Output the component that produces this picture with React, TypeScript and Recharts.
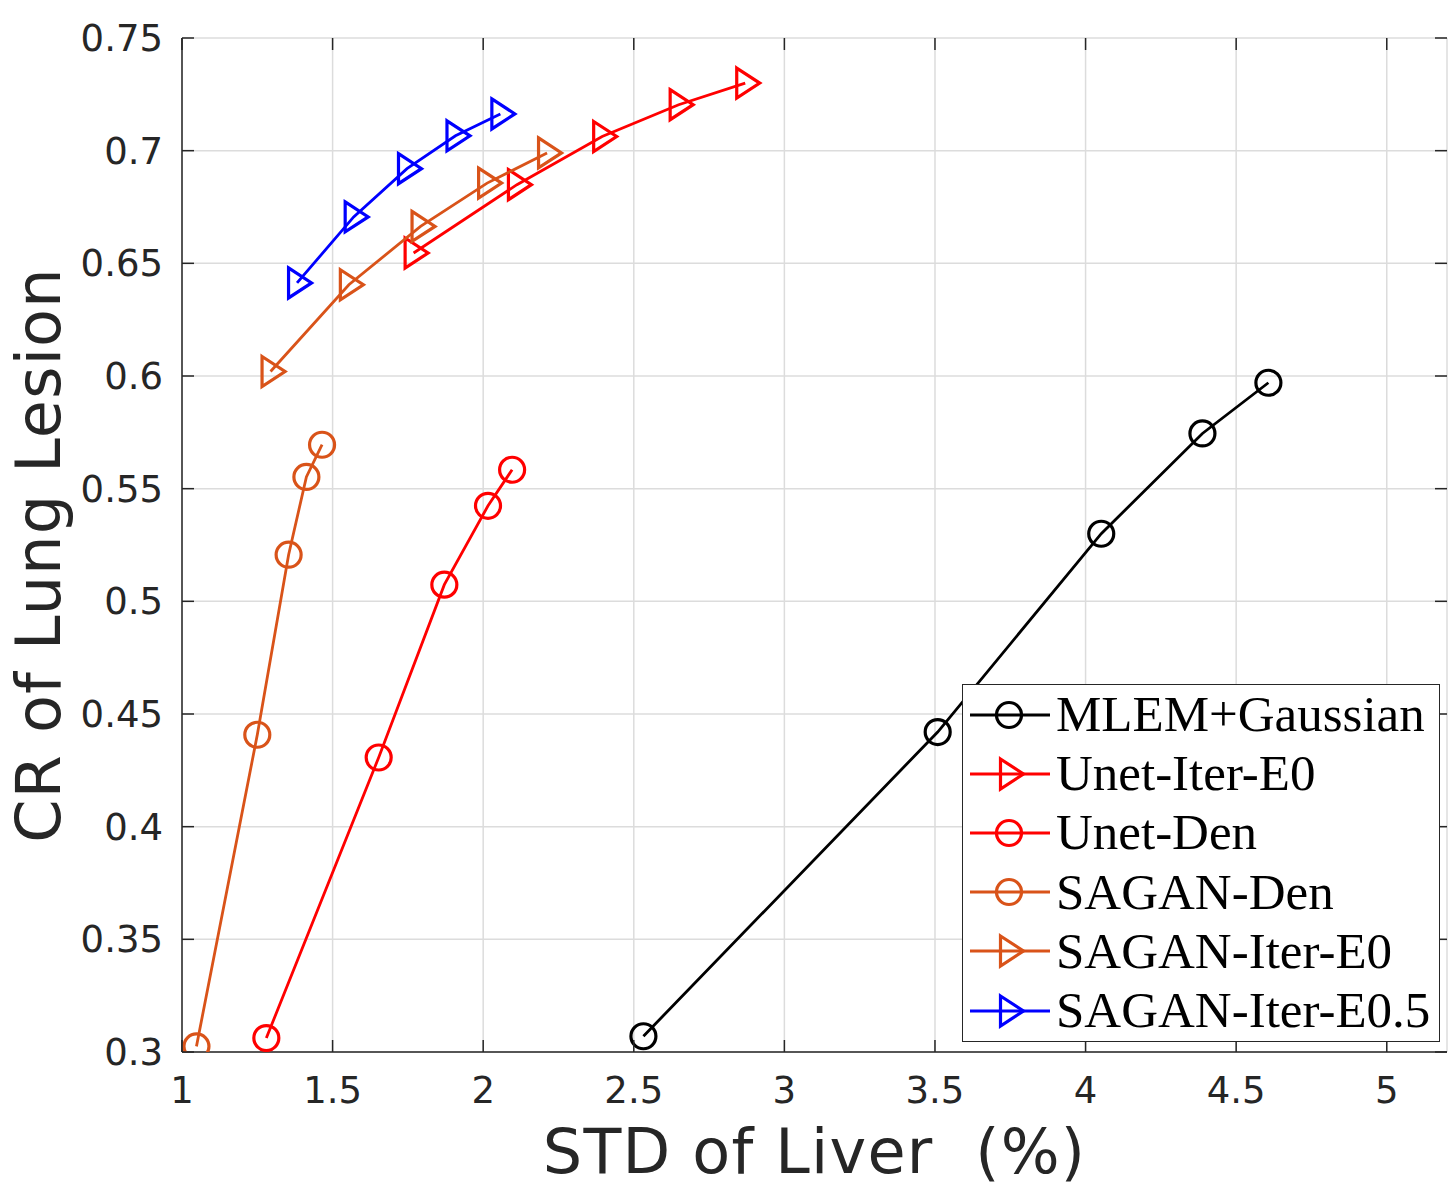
import React from 'react';
import { ScatterChart, Scatter, XAxis, YAxis, CartesianGrid, Legend, Label } from 'recharts';

// axis ticks
const xTicks = [1, 1.5, 2, 2.5, 3, 3.5, 4, 4.5, 5];
const yTicks = [0.3, 0.35, 0.4, 0.45, 0.5, 0.55, 0.6, 0.65, 0.7, 0.75];

// series values: x = STD of liver (%), y = CR of lung lesion
const mlemGaussian = [
  { x: 2.532, y: 0.307 },
  { x: 3.509, y: 0.442 },
  { x: 4.052, y: 0.530 },
  { x: 4.388, y: 0.5745 },
  { x: 4.607, y: 0.597 },
];
const unetIterE0 = [
  { x: 1.769, y: 0.6546 },
  { x: 2.112, y: 0.6849 },
  { x: 2.395, y: 0.7063 },
  { x: 2.649, y: 0.7204 },
  { x: 2.87, y: 0.730 },
];
const unetDen = [
  { x: 1.28, y: 0.3062 },
  { x: 1.653, y: 0.4307 },
  { x: 1.871, y: 0.5074 },
  { x: 2.016, y: 0.5424 },
  { x: 2.096, y: 0.5584 },
];
const saganDen = [
  { x: 1.048, y: 0.3025 },
  { x: 1.25, y: 0.4408 },
  { x: 1.354, y: 0.5207 },
  { x: 1.413, y: 0.5552 },
  { x: 1.465, y: 0.5695 },
];
const saganIterE0 = [
  { x: 1.294, y: 0.602 },
  { x: 1.554, y: 0.6405 },
  { x: 1.792, y: 0.6664 },
  { x: 2.013, y: 0.6856 },
  { x: 2.212, y: 0.699 },
];
const saganIterE05 = [
  { x: 1.382, y: 0.6413 },
  { x: 1.57, y: 0.6706 },
  { x: 1.747, y: 0.692 },
  { x: 1.908, y: 0.7066 },
  { x: 2.057, y: 0.7163 },
];

const ORANGE = '#D95319';

const SERIES = [
  { name: 'MLEM+Gaussian', data: mlemGaussian, color: '#000000', marker: 'circle' },
  { name: 'Unet-Iter-E0', data: unetIterE0, color: '#FF0000', marker: 'triangle' },
  { name: 'Unet-Den', data: unetDen, color: '#FF0000', marker: 'circle' },
  { name: 'SAGAN-Den', data: saganDen, color: ORANGE, marker: 'circle' },
  { name: 'SAGAN-Iter-E0', data: saganIterE0, color: ORANGE, marker: 'triangle' },
  { name: 'SAGAN-Iter-E0.5', data: saganIterE05, color: '#0000FF', marker: 'triangle' },
];

// layout
const W = 1449;
const H = 1190;
const M_TOP = 38;
const M_RIGHT = 2;
const Y_AXIS_W = 182;
const X_AXIS_H = 138;
const PLOT_TOP = M_TOP;
const PLOT_BOTTOM = H - X_AXIS_H;
const PLOT_LEFT = Y_AXIS_W;
const PLOT_RIGHT = W - M_RIGHT;
const TICK_LEN = 12;

const AXIS = '#262626';
const FONT = '"DejaVu Sans", sans-serif';

// MATLAB style: inward ticks on both sides of the box plus the label
const XTick = ({ x, y, payload }: any) => (
  <g>
    <line x1={x} y1={PLOT_BOTTOM} x2={x} y2={PLOT_BOTTOM - TICK_LEN} stroke={AXIS} strokeWidth={1.5} />
    <line x1={x} y1={PLOT_TOP} x2={x} y2={PLOT_TOP + TICK_LEN} stroke={AXIS} strokeWidth={1.5} />
    <text x={x} y={y + 27} textAnchor="middle" fill={AXIS} fontSize={37} fontFamily={FONT}>
      {payload.value}
    </text>
  </g>
);

const YTick = ({ x, y, payload }: any) => (
  <g>
    <line x1={PLOT_LEFT} y1={y} x2={PLOT_LEFT + TICK_LEN} y2={y} stroke={AXIS} strokeWidth={1.5} />
    <line x1={PLOT_RIGHT} y1={y} x2={PLOT_RIGHT - TICK_LEN} y2={y} stroke={AXIS} strokeWidth={1.5} />
    <text x={x} y={y + 13} textAnchor="end" fill={AXIS} fontSize={37} fontFamily={FONT}>
      {payload.value}
    </text>
  </g>
);

const Marker = ({ cx, cy, color, kind }: any) =>
  kind === 'circle' ? (
    <circle cx={cx} cy={cy} r={12.5} fill="none" stroke={color} strokeWidth={3.2} />
  ) : (
    <polygon
      points={`${cx - 8.5},${cy - 15} ${cx + 14.5},${cy} ${cx - 8.5},${cy + 15}`}
      fill="none"
      stroke={color}
      strokeWidth={3.2}
    />
  );

const LegendBox = () => (
  <div
    style={{
      width: 478,
      height: 358,
      boxSizing: 'border-box',
      border: `1.5px solid ${AXIS}`,
      background: '#fff',
      paddingLeft: 7,
    }}
  >
    {SERIES.map((s) => (
      <div key={s.name} style={{ display: 'flex', alignItems: 'center', height: 59.2 }}>
        <svg width={80} height={40} style={{ display: 'block' }}>
          <line x1={0} y1={20} x2={80} y2={20} stroke={s.color} strokeWidth={2.8} />
          <Marker cx={39} cy={20} color={s.color} kind={s.marker} />
        </svg>
        <span
          style={{
            marginLeft: 6,
            fontFamily: '"Liberation Serif", serif',
            fontSize: 51,
            lineHeight: 1,
            color: '#000',
            whiteSpace: 'nowrap',
          }}
        >
          {s.name}
        </span>
      </div>
    ))}
  </div>
);

export default function App() {
  return (
    <div style={{ position: 'absolute', left: 0, top: 0, background: '#fff' }}>
      <ScatterChart width={W} height={H} margin={{ top: M_TOP, right: M_RIGHT, left: 0, bottom: 0 }}>
        <CartesianGrid stroke="#dcdcdc" strokeWidth={1.5} />
        <XAxis
          type="number"
          dataKey="x"
          domain={[1, 5.2]}
          ticks={xTicks}
          allowDataOverflow
          height={X_AXIS_H}
          tick={<XTick />}
          tickLine={false}
          tickSize={0}
          tickMargin={24}
          axisLine={{ stroke: AXIS, strokeWidth: 1.5 }}
        >
          <Label
            content={({ viewBox }: any) => (
              <text
                x={viewBox.x + viewBox.width / 2}
                y={viewBox.y + 121}
                textAnchor="middle"
                fill={AXIS}
                fontSize={62}
                letterSpacing={1.2}
                fontFamily={FONT}
                style={{ whiteSpace: 'pre' }}
              >
                {'STD of Liver  (%)'}
              </text>
            )}
          />
        </XAxis>
        <YAxis
          type="number"
          dataKey="y"
          domain={[0.3, 0.75]}
          ticks={yTicks}
          allowDataOverflow
          width={Y_AXIS_W}
          tick={<YTick />}
          tickLine={false}
          tickSize={0}
          tickMargin={19}
          axisLine={{ stroke: AXIS, strokeWidth: 1.5 }}
        >
          <Label
            content={({ viewBox }: any) => {
              const tx = viewBox.x + 60;
              const ty = viewBox.y + viewBox.height / 2 + 10;
              return (
                <text
                  x={tx}
                  y={ty}
                  transform={`rotate(-90 ${tx} ${ty})`}
                  textAnchor="middle"
                  fill={AXIS}
                  fontSize={62}
                  letterSpacing={1.2}
                  fontFamily={FONT}
                >
                  CR of Lung Lesion
                </text>
              );
            }}
          />
        </YAxis>
        {/* top and right edges of the box */}
        <XAxis
          xAxisId="top"
          orientation="top"
          mirror
          type="number"
          domain={[1, 5.2]}
          ticks={xTicks}
          allowDataOverflow
          height={0}
          tick={false}
          tickLine={false}
          axisLine={{ stroke: AXIS, strokeWidth: 1.5 }}
        />
        <YAxis
          yAxisId="right"
          orientation="right"
          mirror
          type="number"
          domain={[0.3, 0.75]}
          ticks={yTicks}
          allowDataOverflow
          width={0}
          tick={false}
          tickLine={false}
          axisLine={{ stroke: AXIS, strokeWidth: 1.5 }}
        />
        {SERIES.map((s) => (
          <Scatter
            key={s.name}
            name={s.name}
            data={s.data}
            fill={s.color}
            line={{ stroke: s.color, strokeWidth: 2.8 }}
            lineJointType="linear"
            isAnimationActive={false}
            shape={(p: any) => <Marker cx={p.cx} cy={p.cy} color={s.color} kind={s.marker} />}
          />
        ))}
        <Legend
          content={<LegendBox />}
          layout="vertical"
          align="center"
          verticalAlign="middle"
          wrapperStyle={{ left: 962, top: 684, width: 478, height: 358 }}
        />
      </ScatterChart>
    </div>
  );
}
